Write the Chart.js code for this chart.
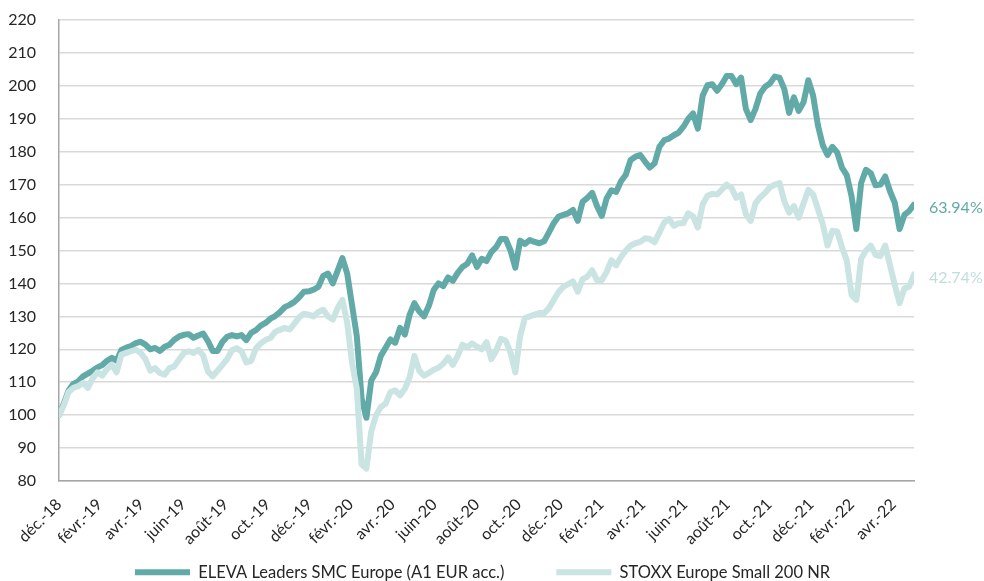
<!DOCTYPE html>
<html>
<head>
<meta charset="utf-8">
<script src="https://cdn.jsdelivr.net/npm/chart.js@4.4.1/dist/chart.umd.min.js"></script>
<style>
  html, body { margin: 0; padding: 0; background: #fff; overflow: hidden; }
  canvas { display: block; }
</style>
</head>
<body>
<canvas id="perfChart" width="984" height="581"></canvas>
<script>
// Weekly values, rebased to 100 at 31/12/2018
const seriesNames = ['ELEVA Leaders SMC Europe (A1 EUR acc.)', 'STOXX Europe Small 200 NR'];

const tickLabels = [
  'déc.-18', 'févr.-19', 'avr.-19', 'juin-19', 'août-19', 'oct.-19',
  'déc.-19', 'févr.-20', 'avr.-20', 'juin-20', 'août-20', 'oct.-20',
  'déc.-20', 'févr.-21', 'avr.-21', 'juin-21', 'août-21', 'oct.-21',
  'déc.-21', 'févr.-22', 'avr.-22'
];

const elevaValues = [
  100, 103.5, 107.5, 109.5, 110.2, 111.8, 112.6, 113.5, 114.5, 115.2,
  116.5, 117.4, 116.5, 119.8, 120.5, 121, 121.9, 122.3, 121.4, 120,
  120.4, 119.5, 120.8, 121.4, 122.9, 123.9, 124.4, 124.6, 123.5, 124.2,
  124.8, 122.5, 119.5, 119.5, 122.2, 123.8, 124.3, 123.9, 124.3, 122.8,
  125, 125.8, 127.2, 128, 129.3, 130.1, 131.3, 132.8, 133.5, 134.4,
  135.8, 137.5, 137.6, 138.1, 139, 142.3, 143, 140, 143.8, 147.7,
  143, 133.5, 124, 105, 99.2, 110.5, 113, 118, 120.5, 123,
  122, 126.5, 124.5, 130.5, 134, 131.5, 130, 133.2, 138, 140,
  139.2, 141.8, 140.8, 143.2, 145, 146, 148.5, 145, 147.5, 146.8,
  149.5, 151, 153.5, 153.5, 150, 144.8, 153, 152, 153.2, 152.6,
  152.2, 152.8, 155.5, 158.3, 160.3, 160.8, 161.3, 162.3, 159, 164.8,
  166, 167.5, 163.5, 160.5, 165.8, 168.3, 167.8, 171, 173, 177.5,
  178.5, 179, 177, 175.2, 176.5, 181.5, 183.5, 184, 185, 185.8,
  187.6, 190, 191.6, 187, 197, 200.2, 200.5, 198.5, 200.5, 203,
  203, 200.5, 202.5, 193, 189.6, 193, 197.7, 199.7, 200.7, 202.8,
  202.5, 199, 191.8, 196.5, 192.4, 195, 201.7, 197, 188, 182,
  179, 181.5, 179.8, 175.2, 172.9, 166.5, 156.5, 170.5, 174.5, 173.5,
  169.8, 170, 172.5, 168, 164.5, 156.5, 160.8, 162, 163.94
];

const stoxxValues = [
  100, 103, 107, 108.3, 108.8, 109.8, 108.3, 111.2, 113, 112,
  114, 115.3, 113, 118.4, 118.9, 119.4, 119.9, 118.9, 117, 113.5,
  114.3, 112.8, 112.3, 114.3, 114.8, 116.9, 118.9, 119.4, 118.9, 119.8,
  118.2, 113.3, 111.8, 113.5, 115.2, 117, 119.7, 120.3, 119.4, 116,
  116.5, 120.3, 121.8, 122.8, 123.4, 125.3, 125.9, 126.5, 126, 127.8,
  129.7, 130.8, 130.5, 130, 131.3, 132, 130, 129, 132.5, 135,
  128, 116, 108, 85, 83.8, 95, 100, 102.5, 103.5, 107,
  107.5, 106, 108, 111.5, 118, 113.5, 112, 112.8, 113.8, 114.4,
  115.6, 117.5, 115.3, 118, 121.4, 120.6, 121.8, 120.8, 120, 122.2,
  117, 119.5, 123.2, 122.6, 119, 113, 124, 129.5, 130, 130.5,
  131, 131, 132.5, 135, 137.4, 139, 139.8, 140.6, 137.5, 141.3,
  142.1, 144, 141, 141, 143.5, 147, 145.5, 148, 150, 151.5,
  152.2, 152.6, 153.7, 153.5, 152.5, 155.5, 158.5, 159.6, 157.5, 158.3,
  158.3, 161.3, 160.4, 157, 164, 166.6, 167.2, 167, 168.5, 170,
  169, 166, 167, 161, 159, 164.3, 166.2, 167.5, 169.2, 170,
  170.5, 165, 161.5, 163.5, 160, 164.3, 168.4, 167, 162.6, 158,
  151.5, 156, 155.8, 151, 147, 136.5, 135, 147.5, 150, 151.5,
  148.7, 148.3, 151.5, 145.5, 139.5, 134, 138.5, 139, 142.74
];

const DARK = '#62aaa7';
const LIGHT = '#c9e4e2';
const FONT = 'Lato, "Liberation Sans", sans-serif';

// x axis in days since 31/12/2018, one point per week
const DAY = 864e5;
const origin = Date.UTC(2018, 11, 31);
const weekDays = elevaValues.map((v, i) => i * 7);
// labels sit on month ends, every two months
const tickDays = tickLabels.map((t, k) => (Date.UTC(2018, 12 + 2 * k, 0) - origin) / DAY);

Chart.defaults.font.family = FONT;
Chart.defaults.font.size = 16;
Chart.defaults.color = '#262626';

const endLabels = {
  id: 'endLabels',
  afterDatasetsDraw(chart) {
    const { ctx, chartArea } = chart;
    ctx.save();
    ctx.font = '16px ' + FONT;
    ctx.textAlign = 'left';
    ctx.textBaseline = 'middle';
    chart.data.datasets.forEach((ds, i) => {
      const meta = chart.getDatasetMeta(i);
      const pt = meta.data[meta.data.length - 1];
      const last = ds.data[ds.data.length - 1].y;
      ctx.fillStyle = ds.labelColor;
      ctx.fillText((last - 100).toFixed(2) + '%', chartArea.right + 15, pt.y + 3);
    });
    ctx.restore();
  }
};

// put the legend row where the original has it
const legendPlace = {
  id: 'legendPlace',
  afterLayout(chart) {
    const lg = chart.legend;
    const pad = lg.options.labels.padding;
    lg.left = 135 - pad;
    lg.top = 572 - pad - 8;
  }
};

new Chart(document.getElementById('perfChart'), {
  type: 'line',
  data: {
    datasets: [
      {
        label: seriesNames[0],
        data: elevaValues.map((v, i) => ({ x: weekDays[i], y: v })),
        borderColor: DARK,
        labelColor: DARK,
        borderWidth: 6,
        order: 1
      },
      {
        label: seriesNames[1],
        data: stoxxValues.map((v, i) => ({ x: weekDays[i], y: v })),
        borderColor: LIGHT,
        labelColor: '#bfdedb',
        borderWidth: 6,
        order: 0
      }
    ]
  },
  options: {
    responsive: false,
    animation: false,
    events: [],
    datasets: {
      line: {
        pointRadius: 0,
        tension: 0,
        fill: false,
        borderJoinStyle: 'round',
        borderCapStyle: 'round'
      }
    },
    layout: { padding: { left: 0, right: 70, top: 20, bottom: 0 } },
    plugins: {
      tooltip: { enabled: false },
      legend: {
        position: 'bottom',
        align: 'start',
        maxHeight: 35,
        labels: {
          usePointStyle: true,
          pointStyle: 'line',
          pointStyleWidth: 55,
          padding: 52,
          color: '#262626',
          font: { size: 16.5 },
          sort: (a, b) => a.datasetIndex - b.datasetIndex
        }
      }
    },
    scales: {
      x: {
        type: 'linear',
        min: 0,
        max: weekDays[weekDays.length - 1],
        afterFit: (scale) => { scale.height = 65; },
        afterBuildTicks: (scale) => { scale.ticks = tickDays.map(d => ({ value: d })); },
        grid: { display: false, drawTicks: false },
        border: { display: true, color: '#a6a6a6', width: 1.5 },
        ticks: {
          autoSkip: false,
          minRotation: 45,
          maxRotation: 45,
          padding: 14,
          color: '#262626',
          callback: (v, i) => tickLabels[i]
        }
      },
      y: {
        min: 80,
        max: 220,
        afterFit: (scale) => { scale.width = 59; },
        grid: {
          color: '#d9d9d9',
          lineWidth: 1.5,
          drawTicks: true,
          tickLength: 20,
          tickColor: 'rgba(0,0,0,0)'
        },
        border: { display: true, color: '#a6a6a6', width: 1.5 },
        ticks: { stepSize: 10, padding: 3, color: '#262626' }
      }
    }
  },
  plugins: [endLabels, legendPlace]
});
</script>
</body>
</html>
